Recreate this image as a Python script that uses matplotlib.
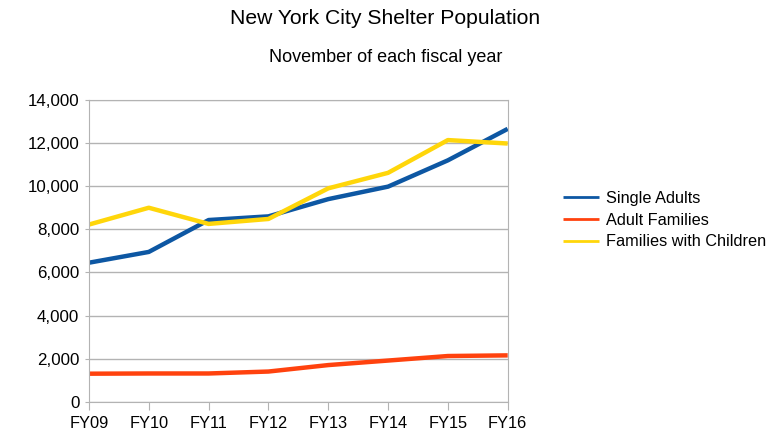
import matplotlib.pyplot as plt
from matplotlib.ticker import FuncFormatter

plt.rcParams['font.family'] = ['Liberation Sans', 'DejaVu Sans']

years = ['FY09', 'FY10', 'FY11', 'FY12', 'FY13', 'FY14', 'FY15', 'FY16']
single_adults = [6450, 6950, 8430, 8600, 9400, 9980, 11200, 12660]
adult_families = [1300, 1310, 1310, 1400, 1700, 1910, 2120, 2150]
families_children = [8220, 9000, 8250, 8480, 9900, 10620, 12140, 11980]

fig = plt.figure(figsize=(7.71, 4.43), dpi=100)
ax = fig.add_axes([0.1154, 0.0932, 0.5431, 0.6811])

x = range(len(years))
ax.plot(x, single_adults, color='#0d57a3', lw=3.2, label='Single Adults', solid_capstyle='butt')
ax.plot(x, adult_families, color='#ff420e', lw=3.2, label='Adult Families', solid_capstyle='butt')
ax.plot(x, families_children, color='#ffd60a', lw=3.2, label='Families with Children', solid_capstyle='butt')

ax.set_xlim(0, len(years) - 1)
ax.set_ylim(0, 14000)
ax.set_yticks(range(0, 14001, 2000))
ax.yaxis.set_major_formatter(FuncFormatter(lambda v, p: f'{int(v):,}'))
ax.set_xticks(list(x))
ax.set_xticklabels(years)
ax.grid(axis='y', color='#b3b3b3', lw=1)
ax.set_axisbelow(True)
for s in ax.spines.values():
    s.set_color('#b3b3b3')
ax.tick_params(axis='x', length=6, color='#b3b3b3', labelsize=11.8, pad=4)
ax.tick_params(axis='y', length=3, color='#b3b3b3', labelsize=12.2, pad=4)

fig.text(0.5, 0.958, 'New York City Shelter Population', ha='center', va='center', fontsize=15.2)
fig.text(0.5, 0.871, 'November of each fiscal year', ha='center', va='center', fontsize=13)

leg = fig.legend(loc='center left', bbox_to_anchor=(0.722, 0.503), frameon=False,
                 fontsize=11.7, handlelength=2.2, handletextpad=0.45, labelspacing=0.42,
                 borderaxespad=0)
for h in leg.get_lines():
    h.set_linewidth(2)

fig.savefig('out.png', dpi=100)
